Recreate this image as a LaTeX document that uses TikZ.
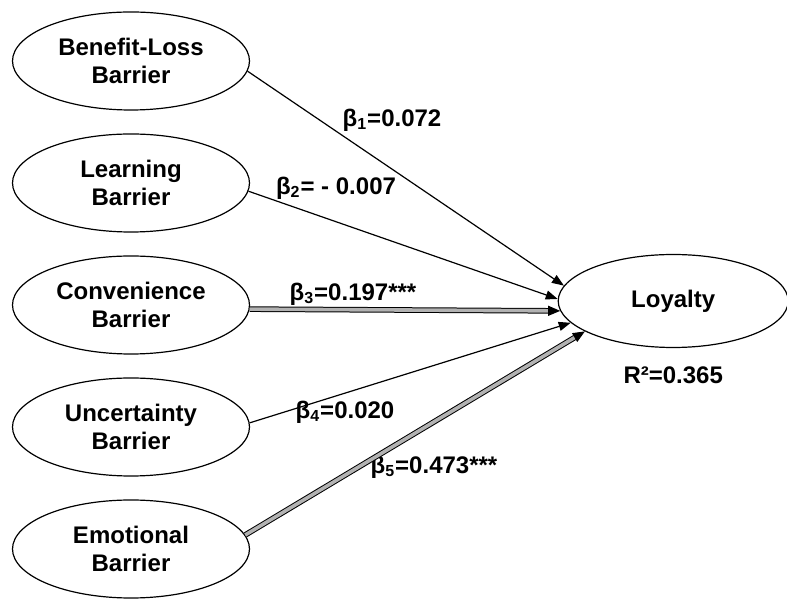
\documentclass[tikz,border=0pt]{standalone}
\usepackage{fontspec}
\setmainfont{Liberation Sans}
\usepackage{tikz}
\usetikzlibrary{positioning, shapes.geometric, arrows.meta}

\begin{document}
\begin{tikzpicture}[node distance=61pt, font=\fontsize{12}{14}\selectfont\bfseries,
  latent/.style={draw, ellipse, line width=0.6pt, minimum width=118.5pt, minimum height=49pt, align=center, inner sep=0pt},
  coef/.style={inner sep=0pt},
  link/.style={line width=0.6pt, -{Triangle[length=6pt, width=4.5pt]}},
  strong/.style={line width=0.5pt, double=gray!60, double distance=1.8pt, -{Triangle[length=6pt, width=5pt]}}]

  \useasboundingbox (-65.5pt,-271pt) rectangle (328pt,30.5pt);

  % Nodes
  \node[latent] (benefit) {Benefit-Loss\\Barrier};
  \node[latent] (learning) [below of=benefit] {Learning\\Barrier};
  \node[latent] (convenience) [below of=learning] {Convenience\\Barrier};
  \node[latent] (uncertainty) [below of=convenience] {Uncertainty\\Barrier};
  \node[latent] (emotional) [below of=uncertainty] {Emotional\\Barrier};
  \node[latent, minimum width=115pt, minimum height=46.5pt] (loyalty) [right=153.75pt of convenience, yshift=2pt] {Loyalty};

  % Coefficients
  \node[coef] (b1) at (130.5pt,-29.5pt) {β\textsubscript{1}=0.072};
  \node[coef] (b2) at (102.5pt,-63.5pt) {β\textsubscript{2}= - 0.007};
  \node[coef] (b3) at (111pt,-116.5pt) {β\textsubscript{3}=0.197***};
  \node[coef] (b4) at (107pt,-175.5pt) {β\textsubscript{4}=0.020};
  \node[coef] (b5) at (151.5pt,-203pt) {β\textsubscript{5}=0.473***};
  \node[coef] (rsq) [below=9pt of loyalty] {R²=0.365};

  % Arrows
  \draw[link] (benefit.-5) -- (loyalty.172);
  \draw[link] (learning.-4) -- (loyalty.179);
  \draw[strong] (convenience.-2) -- (loyalty.185);
  \draw[link] (uncertainty.2) -- (loyalty.192);
  \draw[strong] (emotional.7) -- (loyalty.199);

\end{tikzpicture}
\end{document}
